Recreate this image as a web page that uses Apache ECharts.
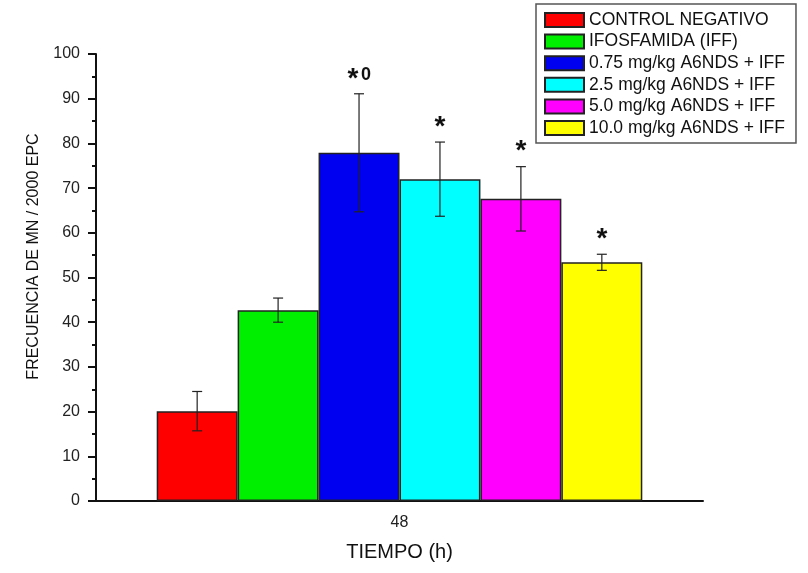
<!DOCTYPE html>
<html>
<head>
<meta charset="utf-8">
<script src="https://cdn.jsdelivr.net/npm/echarts@6/dist/echarts.min.js"></script>
<style>html,body{margin:0;padding:0;background:#fff}#c{width:808px;height:573px}</style>
</head>
<body>
<div id="c"></div>
<script>
const categories = ['48'];
const seriesNames = ['CONTROL NEGATIVO', 'IFOSFAMIDA (IFF)', '0.75 mg/kg A6NDS + IFF', '2.5 mg/kg A6NDS + IFF', '5.0 mg/kg A6NDS + IFF', '10.0 mg/kg A6NDS + IFF'];
const means = [20.1, 42.7, 77.9, 72.0, 67.6, 53.4];
const errors = [4.4, 2.7, 13.2, 8.3, 7.2, 1.8];
const starMarks = ['', '', '*', '*', '*', '*'];
const extraMarks = ['', '', '0', '', '', ''];
const colors = ['#ff0000', '#00ee00', '#0000f0', '#00ffff', '#ff00ff', '#ffff00'];
const yTicks = [0, 10, 20, 30, 40, 50, 60, 70, 80, 90, 100];

const FONT = 'Liberation Sans, Arial, sans-serif';
const chart = echarts.init(document.getElementById('c'));
const nSeries = seriesNames.length;
const catGap = 0.2;

const barSeries = seriesNames.map((name, i) => ({
  name: name,
  type: 'bar',
  data: [means[i]],
  barGap: '0%',
  barCategoryGap: '20%',
  itemStyle: { color: colors[i], borderColor: '#222', borderWidth: 1.5 },
  emphasis: { disabled: true }
}));

const errData = means.map((m, i) => [0, m, errors[i], i]);

const errSeries = {
  type: 'custom',
  name: 'err',
  z: 10,
  data: errData,
  encode: { x: 0, y: 1 },
  renderItem: function (params, api) {
    const idx = api.value(3);
    const mean = api.value(1);
    const err = api.value(2);
    const band = api.size([1, 0])[0];
    const barW = band * (1 - catGap) / nSeries;
    const center = api.coord([0, mean]);
    const x = center[0] + (idx - (nSeries - 1) / 2) * barW;
    const yTop = api.coord([0, mean + err])[1];
    const yBot = api.coord([0, mean - err])[1];
    const cap = 5;
    const st = { stroke: '#222', lineWidth: 1.2 };
    const children = [
      { type: 'line', shape: { x1: x, y1: yTop, x2: x, y2: yBot }, style: st },
      { type: 'line', shape: { x1: x - cap, y1: yTop, x2: x + cap, y2: yTop }, style: st },
      { type: 'line', shape: { x1: x - cap, y1: yBot, x2: x + cap, y2: yBot }, style: st }
    ];
    const star = starMarks[idx];
    const extra = extraMarks[idx];
    if (star) {
      const sx = extra ? x - 6 : x;
      children.push({
        type: 'text',
        style: { text: star, x: sx, y: yTop - 15, align: 'center', verticalAlign: 'middle',
          font: 'bold 28px ' + FONT, fill: '#111' }
      });
    }
    if (extra) {
      children.push({
        type: 'text',
        style: { text: extra, x: x + 7, y: yTop - 19, align: 'center', verticalAlign: 'middle',
          font: 'bold 18px ' + FONT, fill: '#111' }
      });
    }
    return { type: 'group', children: children };
  }
};

chart.setOption({
  animation: false,
  backgroundColor: '#fff',
  grid: { left: 96, right: 105, top: 54, bottom: 72 },
  legend: {
    data: seriesNames,
    orient: 'vertical',
    left: 536, top: 4,
    padding: [7, 11, 6, 8],
    itemWidth: 39, itemHeight: 14, itemGap: 3.6,
    borderColor: '#555', borderWidth: 1.5,
    icon: 'rect',
    textStyle: { fontFamily: FONT, fontSize: 17.5, color: '#111', lineHeight: 17 }
  },
  xAxis: {
    type: 'category',
    data: categories,
    name: 'TIEMPO (h)',
    nameLocation: 'middle',
    nameGap: 41,
    nameTextStyle: { fontFamily: FONT, fontSize: 20, color: '#111' },
    axisLine: { lineStyle: { color: '#111', width: 2 } },
    axisTick: { alignWithLabel: true, length: 6, lineStyle: { color: '#111', width: 2 } },
    axisLabel: { margin: 14, fontFamily: FONT, fontSize: 16, color: '#222' }
  },
  yAxis: {
    type: 'value',
    min: yTicks[0], max: yTicks[yTicks.length - 1], interval: yTicks[1] - yTicks[0],
    name: 'FRECUENCIA DE MN / 2000 EPC',
    nameLocation: 'middle',
    nameGap: 54,
    nameTextStyle: { fontFamily: FONT, fontSize: 16, color: '#111', padding: [0, 0, 0, 42] },
    axisLine: { show: true, lineStyle: { color: '#111', width: 2 } },
    axisTick: { show: true, length: 8, lineStyle: { color: '#111', width: 2 } },
    minorTick: { show: true, splitNumber: 2, length: 4, lineStyle: { color: '#111', width: 2 } },
    splitLine: { show: false },
    axisLabel: { margin: 16, fontFamily: FONT, fontSize: 16, color: '#222' }
  },
  series: barSeries.concat([errSeries])
});
</script>
</body>
</html>
